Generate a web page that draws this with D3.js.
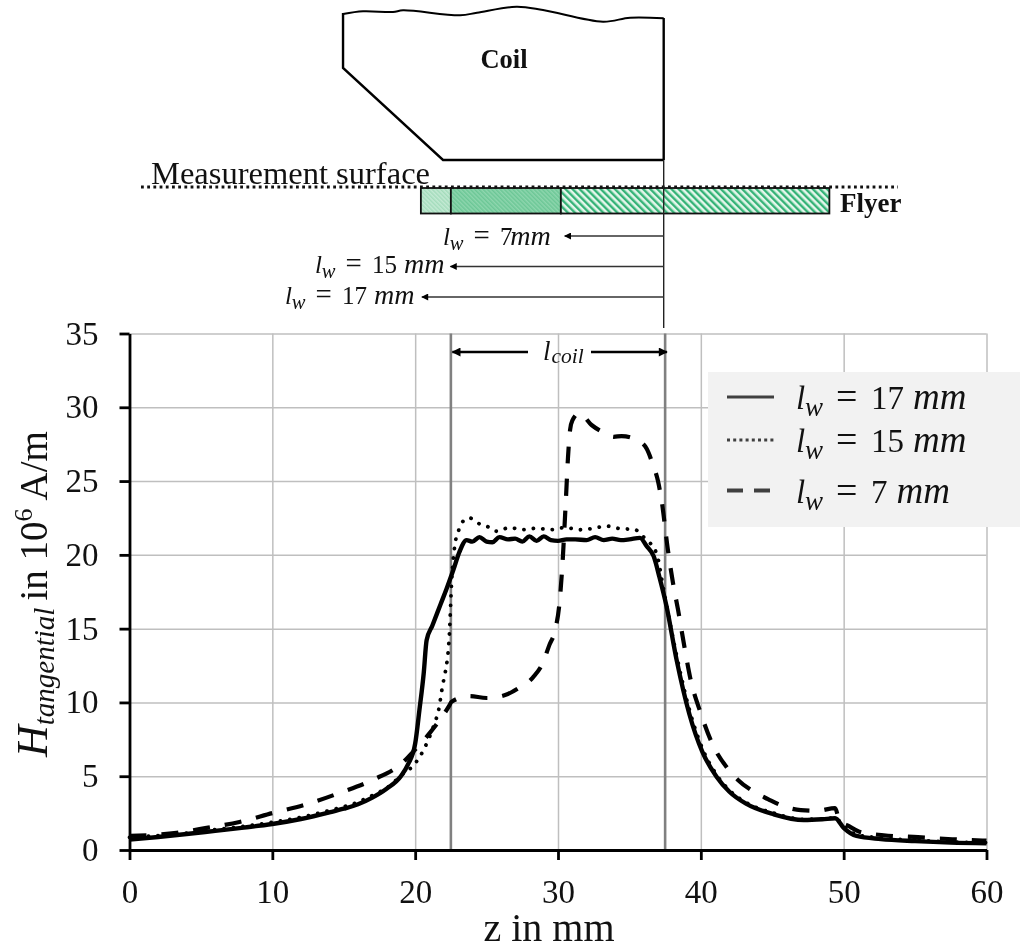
<!DOCTYPE html>
<html>
<head>
<meta charset="utf-8">
<script src="https://cdn.jsdelivr.net/npm/d3@7"></script>
<style>
  html, body { margin: 0; padding: 0; background: #fff; }
  svg { filter: blur(0.45px); }
  text { font-family: "Liberation Serif", serif; fill: #111; }
</style>
</head>
<body>
<div id="my_dataviz"></div>
<script>
// curve readings, z in mm and H in 10^6 A/m
var solidZ = [0, 2, 4, 6, 8, 10, 12, 14, 15, 16, 17, 18, 19, 19.5, 20, 20.3, 20.6, 20.8, 21.2, 21.8, 22.2, 22.67, 23.1, 23.6, 24, 24.5, 25, 25.4, 25.9, 26.5, 27, 27.5, 28, 28.5, 29, 29.5, 30, 30.6, 31.2, 32, 32.6, 33.2, 33.8, 34.4, 35, 35.74, 36.2, 36.7, 37.1, 37.6, 38.3, 39.2, 40.1, 41.1, 42, 43.2, 45.1, 47.2, 48.5, 49.4, 50, 50.9, 52.6, 55, 57.5, 60];
var solidH = [0.7, 0.88, 1.08, 1.3, 1.52, 1.76, 2.1, 2.55, 2.8, 3.1, 3.55, 4.15, 5.0, 5.8, 7.2, 9.5, 12, 14.2, 15.2, 16.7, 17.7, 18.97, 20.2, 21.0, 20.9, 21.2, 20.9, 20.85, 21.2, 21.05, 21.1, 20.9, 21.25, 20.95, 21.25, 21.0, 20.95, 21.05, 21.05, 21.0, 21.2, 21.0, 21.1, 21.0, 21.05, 21.15, 20.6, 19.9, 18.5, 16.5, 12.9, 9.2, 6.66, 4.97, 3.95, 3.12, 2.42, 2.03, 2.08, 2.15, 1.5, 0.95, 0.74, 0.6, 0.5, 0.45];

var dottedZ = [0, 2, 4, 6, 8, 10, 12, 14, 16, 17, 18, 19.2, 19.85, 20.6, 21.4, 21.6, 21.95, 22.1, 22.4, 22.55, 22.8, 23, 23.2, 23.8, 24.5, 25.1, 25.7, 26.6, 27.5, 28.5, 29.5, 30.5, 31.5, 32.5, 33.4, 34.2, 35.4, 36.1, 36.9, 37.4, 38.3, 39.2, 40.1, 41.1, 42, 43.2, 45.1, 47.2, 48.5, 49.4, 50, 50.9, 52.6, 55, 57.5, 60];
var dottedH = [0.85, 0.98, 1.15, 1.38, 1.6, 1.88, 2.22, 2.68, 3.25, 3.7, 4.2, 5.2, 5.7, 6.8, 8.7, 9.3, 11.3, 12, 14.7, 18.1, 20.8, 21.5, 22.1, 22.5, 22.1, 21.9, 21.6, 21.85, 21.7, 21.8, 21.7, 21.85, 21.7, 21.8, 21.95, 21.8, 21.7, 21.1, 20.1, 17.6, 13.2, 9.5, 6.9, 5.1, 4.05, 3.2, 2.5, 2.08, 2.1, 2.18, 1.6, 1.05, 0.82, 0.66, 0.55, 0.5];

var dashedZ = [0, 3.3, 5.4, 7.7, 10, 12.4, 14.8, 17, 19.1, 19.9, 21, 22.4, 22.55, 23.8, 25, 26.3, 27.2, 28.25, 28.9, 29.4, 29.8, 30.1, 30.3, 30.55, 30.7, 30.85, 31, 31.5, 32.35, 33.4, 33.9, 34.45, 35.7, 36.2, 36.65, 37, 37.25, 37.7, 38.05, 38.4, 38.9, 39.25, 40, 40.8, 41.9, 42.6, 43.7, 44.7, 45.7, 47, 48.2, 49.4, 49.7, 50.4, 51.1, 52.8, 55.2, 57.6, 60];
var dashedH = [0.95, 1.17, 1.5, 1.9, 2.5, 3.1, 3.9, 4.74, 5.9, 6.7, 7.9, 9.8, 10.05, 10.43, 10.3, 10.5, 10.95, 11.7, 12.6, 13.9, 14.9, 16.7, 19.2, 23.7, 26.6, 28.5, 29.1, 29.6, 28.8, 28.2, 28.0, 28.05, 27.7, 27.2, 26.1, 25, 23.7, 20.3, 18.1, 16.3, 13.5, 11.7, 9.25, 7.2, 5.5, 4.75, 3.95, 3.45, 3, 2.7, 2.66, 2.84, 2.0, 1.6, 1.24, 1.0, 0.87, 0.73, 0.63];

var xTicks = [0, 10, 20, 30, 40, 50, 60];
var yTicks = [0, 5, 10, 15, 20, 25, 30, 35];
var coilEdges = [22.5, 37.5];

// schematic, also read in z
var coilTopZ = [14.95, 16.35, 18.45, 19.15, 23.15, 24.33, 27.1, 28.95, 33.15, 35.05, 37.4];
var coilTopY = [14, 11.3, 12, 10.3, 15.3, 12.7, 6.7, 10, 21.7, 17.7, 18.3];
var flyerEdges = [20.4, 22.5, 30.2, 49];
var flyerFills = ["url(#hatchLight)", "url(#hatchMid)", "url(#hatchOpen)"];
var weldLengths = [7, 15, 17];

// set the dimensions and margins of the graph
var margin = {top: 333.5, right: 33.5, bottom: 94, left: 129.5},
    width = 1020 - margin.left - margin.right,
    height = 944 - margin.top - margin.bottom;

var root = d3.select("#my_dataviz")
  .append("svg")
    .attr("width", 1020)
    .attr("height", 944)
    .style("display", "block");

var defs = root.append("defs");

function hatch(id, base, stripe, size, sw) {
  var p = defs.append("pattern")
    .attr("id", id)
    .attr("patternUnits", "userSpaceOnUse")
    .attr("width", size)
    .attr("height", size)
    .attr("patternTransform", "rotate(-45)");
  p.append("rect").attr("width", size).attr("height", size).attr("fill", base);
  p.append("rect").attr("width", sw).attr("height", size).attr("fill", stripe);
}
hatch("hatchLight", "#c4ead4", "#a4dcbc", 3, 1.5);
hatch("hatchMid", "#8ed6ae", "#6cc796", 3, 1.5);
hatch("hatchOpen", "#e4f6eb", "#35b377", 5, 2.4);

var svg = root.append("g")
    .attr("transform", "translate(" + margin.left + "," + margin.top + ")");

var x = d3.scaleLinear().domain([0, 60]).range([0, width]);
var y = d3.scaleLinear().domain([0, 35]).range([height, 0]);

// grid
var xGrid = svg.append("g")
  .attr("transform", "translate(0," + height + ")")
  .call(d3.axisBottom(x).tickValues(xTicks).tickSize(-height).tickFormat(""));
var yGrid = svg.append("g")
  .call(d3.axisLeft(y).tickValues(yTicks).tickSize(-width).tickFormat(""));
[xGrid, yGrid].forEach(function(g) {
  g.select(".domain").remove();
  g.selectAll("line").attr("stroke", "#bfbfbf").attr("stroke-width", 1.5);
});

// legend box sits on top of the grid
root.append("rect")
  .attr("x", 708).attr("y", 372)
  .attr("width", 312).attr("height", 155)
  .attr("fill", "#f2f2f2");

// coil limits
svg.selectAll(".coil-edge")
  .data(coilEdges)
  .enter().append("line")
    .attr("class", "coil-edge")
    .attr("x1", function(d) { return x(d); })
    .attr("x2", function(d) { return x(d); })
    .attr("y1", 0)
    .attr("y2", height)
    .attr("stroke", "#808080")
    .attr("stroke-width", 2.6);

// curves
function curve(zs, hs) {
  return d3.line()
    .x(function(d) { return x(d); })
    .y(function(d, i) { return y(hs[i]); })
    .curve(d3.curveMonotoneX)(zs);
}

svg.append("path")
  .attr("d", curve(dottedZ, dottedH))
  .attr("fill", "none")
  .attr("stroke", "#000")
  .attr("stroke-width", 3.8)
  .attr("stroke-linecap", "round")
  .attr("stroke-dasharray", "0.1 9.4");

svg.append("path")
  .attr("d", curve(dashedZ, dashedH))
  .attr("fill", "none")
  .attr("stroke", "#000")
  .attr("stroke-width", 4.2)
  .attr("stroke-dasharray", "17 15");

svg.append("path")
  .attr("d", curve(solidZ, solidH))
  .attr("fill", "none")
  .attr("stroke", "#000")
  .attr("stroke-width", 4.4);

// axes
var xAxis = svg.append("g")
  .attr("transform", "translate(0," + height + ")")
  .call(d3.axisBottom(x).tickValues(xTicks).tickSize(10).tickPadding(19.6).tickSizeOuter(0));
var yAxis = svg.append("g")
  .call(d3.axisLeft(y).tickValues(yTicks).tickSize(10).tickPadding(21).tickSizeOuter(0));
[xAxis, yAxis].forEach(function(g) {
  g.select(".domain").attr("stroke", "#000").attr("stroke-width", 2.8);
  g.selectAll("line").attr("stroke", "#000").attr("stroke-width", 2.8);
  g.selectAll("text")
    .style("font-family", '"Liberation Serif", serif')
    .style("font-size", "33px")
    .attr("fill", "#111");
});

root.append("text")
  .attr("x", 549).attr("y", 941)
  .attr("text-anchor", "middle")
  .style("font-size", "40px")
  .text("z in mm");

var yLabel = root.append("text")
  .attr("transform", "translate(47,757) rotate(-90)")
  .style("font-size", "39px");
yLabel.append("tspan").style("font-style", "italic").style("font-size", "44px").text("H");
yLabel.append("tspan").style("font-style", "italic").style("font-size", "29px").attr("dy", 7).text("tangential");
yLabel.append("tspan").attr("dy", -7).attr("dx", 7).text("in 10");
yLabel.append("tspan").style("font-size", "26px").attr("dy", -15).text("6");
yLabel.append("tspan").attr("dy", 15).attr("dx", 8).text("A/m");

// l_w = n mm as text, parts placed to follow the wider math font of the original
function lwLabel(parent, px, py, k, value, unitGap) {
  var digits = String(value);
  var t = parent.append("text").attr("y", py).style("font-size", 33 * k + "px");
  t.append("tspan").attr("x", px).style("font-style", "italic").text("l");
  t.append("tspan").attr("x", px + 9 * k).attr("dy", 7 * k)
    .style("font-style", "italic").style("font-size", 27 * k + "px").text("w");
  t.append("tspan").attr("x", px + 40 * k).attr("dy", -7 * k).style("font-size", 38 * k + "px").text("=");
  t.append("tspan").attr("x", px + 75 * k).text(digits);
  t.append("tspan").attr("x", px + (75 + 16.5 * digits.length + unitGap) * k)
    .style("font-style", "italic").style("font-size", 37 * k + "px").text("mm");
  return t;
}

// legend
var legendLines = [
  {y: 397, value: 17, dash: null, w: 3},
  {y: 440, value: 15, dash: "3 3.2", w: 3},
  {y: 490.5, value: 7, dash: "16 11", w: 4}
];
root.selectAll(".legend-line")
  .data(legendLines)
  .enter().append("line")
    .attr("class", "legend-line")
    .attr("x1", 727).attr("x2", 774)
    .attr("y1", function(d) { return d.y; })
    .attr("y2", function(d) { return d.y; })
    .attr("stroke", "#404040")
    .attr("stroke-width", function(d) { return d.w; })
    .attr("stroke-dasharray", function(d) { return d.dash; });
legendLines.forEach(function(d) {
  lwLabel(root, 796, d.y + 12, 1, d.value, 9);
});

// l_coil arrow
var arrowHead = defs.append("marker")
  .attr("id", "head")
  .attr("viewBox", "0 0 10 10")
  .attr("refX", 9).attr("refY", 5)
  .attr("markerWidth", 10).attr("markerHeight", 9)
  .attr("markerUnits", "userSpaceOnUse")
  .attr("orient", "auto");
arrowHead.append("path").attr("d", "M0,0 L10,5 L0,10 Z").attr("fill", "#000");

root.append("line")
  .attr("x1", 528).attr("x2", margin.left + x(coilEdges[0]) + 1.5)
  .attr("y1", 352).attr("y2", 352)
  .attr("stroke", "#000").attr("stroke-width", 2.4)
  .attr("marker-end", "url(#head)");
root.append("line")
  .attr("x1", 591).attr("x2", margin.left + x(coilEdges[1]) + 1.8)
  .attr("y1", 352).attr("y2", 352)
  .attr("stroke", "#000").attr("stroke-width", 2.4)
  .attr("marker-end", "url(#head)");
var coilLabel = root.append("text")
  .attr("x", 543).attr("y", 360)
  .style("font-size", "27px")
  .style("font-style", "italic");
coilLabel.append("tspan").text("l");
coilLabel.append("tspan").style("font-size", "21.5px").attr("dy", 3).attr("dx", 1).text("coil");

// schematic above the chart
var sx = function(z) { return margin.left + x(z); };
var coilEnd = coilTopZ[coilTopZ.length - 1];

root.append("path")
  .attr("d", d3.line().x(function(d) { return sx(d); }).y(function(d, i) { return coilTopY[i]; }).curve(d3.curveCatmullRom)(coilTopZ))
  .attr("fill", "none").attr("stroke", "#000").attr("stroke-width", 2);

root.append("path")
  .attr("d", "M" + sx(coilTopZ[0]) + ",13 V68 L" + sx(21.95) + ",160 H" + sx(coilEnd))
  .attr("fill", "none").attr("stroke", "#000").attr("stroke-width", 2.4);

root.append("line")
  .attr("x1", sx(coilEnd)).attr("x2", sx(coilEnd))
  .attr("y1", 18).attr("y2", 160)
  .attr("stroke", "#000").attr("stroke-width", 2.4);

root.append("text")
  .attr("x", 504).attr("y", 68)
  .attr("text-anchor", "middle")
  .style("font-size", "26.5px").style("font-weight", "bold")
  .text("Coil");

root.append("text")
  .attr("x", 151).attr("y", 184)
  .attr("textLength", 279)
  .attr("lengthAdjust", "spacingAndGlyphs")
  .style("font-size", "31px")
  .text("Measurement surface");

root.selectAll(".flyer")
  .data(flyerFills)
  .enter().append("rect")
    .attr("class", "flyer")
    .attr("x", function(d, i) { return sx(flyerEdges[i]); })
    .attr("y", 188)
    .attr("width", function(d, i) { return sx(flyerEdges[i + 1]) - sx(flyerEdges[i]); })
    .attr("height", 25.5)
    .attr("fill", function(d) { return d; })
    .attr("stroke", "#111")
    .attr("stroke-width", 1.8);

root.append("line")
  .attr("x1", 141).attr("x2", 898)
  .attr("y1", 187).attr("y2", 187)
  .attr("stroke", "#111").attr("stroke-width", 2.8)
  .attr("stroke-dasharray", "2.8 3.4");

root.append("text")
  .attr("x", 840).attr("y", 212)
  .style("font-size", "27px").style("font-weight", "bold")
  .text("Flyer");

root.append("line")
  .attr("x1", sx(coilEnd)).attr("x2", sx(coilEnd))
  .attr("y1", 160).attr("y2", 328)
  .attr("stroke", "#222").attr("stroke-width", 1.4);

// weld length arrows
var smallHead = defs.append("marker")
  .attr("id", "smallHead")
  .attr("viewBox", "0 0 10 10")
  .attr("refX", 9).attr("refY", 5)
  .attr("markerWidth", 8).attr("markerHeight", 7)
  .attr("markerUnits", "userSpaceOnUse")
  .attr("orient", "auto");
smallHead.append("path").attr("d", "M0,0 L10,5 L0,10 Z").attr("fill", "#000");

var arrowY = [236, 266.5, 297];
var labelX = [443, 315, 285];
var labelY = [245, 273, 304];
var labelGap = [-3, 9, 9];
weldLengths.forEach(function(d, i) {
  root.append("line")
    .attr("x1", sx(coilEnd)).attr("x2", sx(coilEnd - d) + 1)
    .attr("y1", arrowY[i]).attr("y2", arrowY[i])
    .attr("stroke", "#333").attr("stroke-width", 1.4)
    .attr("marker-end", "url(#smallHead)");
  lwLabel(root, labelX[i], labelY[i], 0.76, d, labelGap[i]);
});
</script>
</body>
</html>
